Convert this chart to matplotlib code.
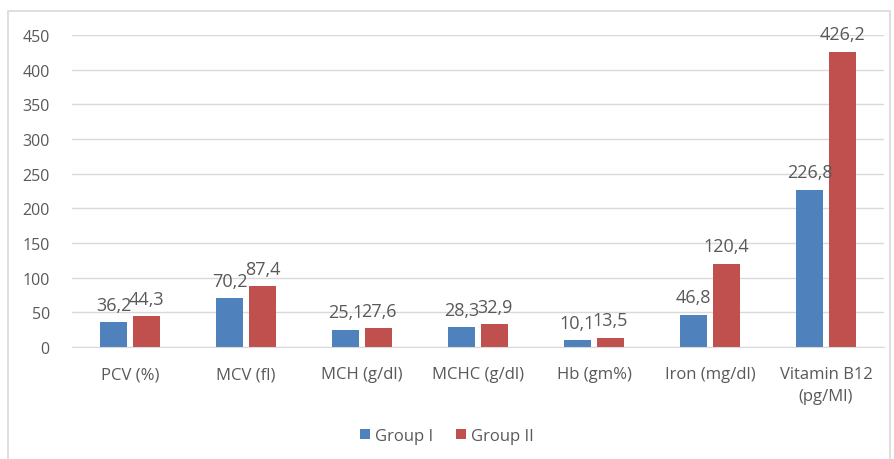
import matplotlib.pyplot as plt
import numpy as np
from matplotlib.patches import Rectangle

categories = ['PCV (%)', 'MCV (fl)', 'MCH (g/dl)', 'MCHC (g/dl)', 'Hb (gm%)',
              'Iron (mg/dl)', 'Vitamin B12\n(pg/Ml)']
group1 = [36.2, 70.2, 25.1, 28.3, 10.1, 46.8, 226.8]
group2 = [44.3, 87.4, 27.6, 32.9, 13.5, 120.4, 426.2]
yticks = [0, 50, 100, 150, 200, 250, 300, 350, 400, 450]

plt.rcParams['font.family'] = ['Open Sans', 'DejaVu Sans']
text_col = '#595959'

fig = plt.figure(figsize=(8.94, 4.6), dpi=100)
ax = fig.add_axes([72 / 894, 1 - 348 / 460, 812 / 894, 312 / 460])

# outer chart frame
fig.patches.append(Rectangle((8 / 894, -0.01), 0.995 - 8 / 894, 1 - 12 / 460 + 0.01,
                             transform=fig.transFigure, fill=False,
                             edgecolor='#d9d9d9', linewidth=1.2))

x = np.arange(len(categories))
w = 0.235
gap = 0.05
b1 = ax.bar(x - (w + gap) / 2, group1, w, color='#4f81bd', label='Group I')
b2 = ax.bar(x + (w + gap) / 2, group2, w, color='#c0504d', label='Group II')

for bars in (b1, b2):
    for rect in bars:
        v = rect.get_height()
        ax.text(rect.get_x() + rect.get_width() / 2, v + 12,
                f'{v:.1f}'.replace('.', ','), ha='center', va='bottom',
                fontsize=13, color=text_col)

ax.set_xlim(-0.5, len(categories) - 0.5)
ax.set_ylim(0, 450)
ax.set_yticks(yticks)
ax.set_xticks(x)
ax.set_xticklabels(categories, fontsize=12, color=text_col, linespacing=1.45)
ax.tick_params(axis='y', length=0, pad=16, labelsize=11.5, labelcolor=text_col)
ax.tick_params(axis='x', length=0, pad=14)
ax.grid(axis='y', color='#d9d9d9', linewidth=1)
ax.set_axisbelow(True)
for s in ['top', 'right', 'left']:
    ax.spines[s].set_visible(False)
ax.spines['bottom'].set_color('#d9d9d9')

ax.legend(loc='center', bbox_to_anchor=(0.5, 1 - 437 / 460), bbox_transform=fig.transFigure,
          ncol=2, frameon=False, fontsize=12, handlelength=0.6, handleheight=0.6,
          columnspacing=1.4, handletextpad=0.3, labelcolor=text_col)

fig.savefig('out.png', dpi=100)
